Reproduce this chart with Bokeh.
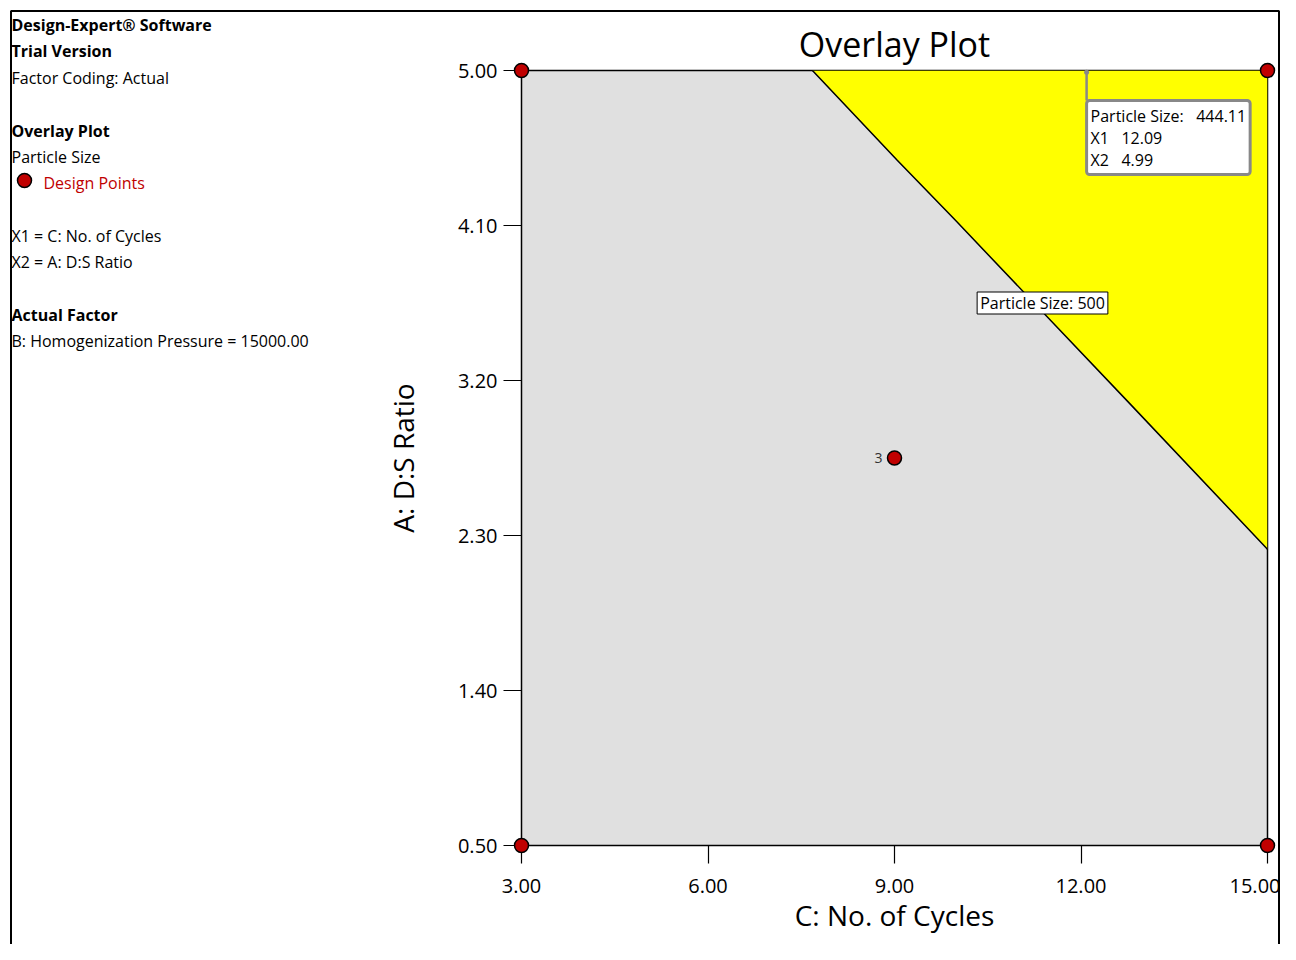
from bokeh.plotting import figure
from bokeh.layouts import row
from bokeh.models import FixedTicker, Label, NumeralTickFormatter, Range1d, ColumnDataSource
from bokeh.embed import file_html
from bokeh.resources import INLINE
from bokeh.core.properties import value

# ---------------- data ----------------
x_ticks = [3, 6, 9, 12, 15]
y_ticks = [0.5, 1.4, 2.3, 3.2, 4.1, 5.0]
design_x = [3, 15, 3, 15, 9]
design_y = [5.0, 5.0, 0.5, 0.5, 2.75]
design_count = ["", "", "", "", "3"]
contour_x = [7.68, 9.04, 9.98, 12.80, 15.0]
contour_y = [5.00, 4.48, 4.13, 3.06, 2.22]
contour_level = 500
flag_x1 = 12.09
flag_x2 = 4.99
flag_value = 444.11
info_text = ["Design-Expert® Software", "Trial Version", "Factor Coding: Actual",
             "Overlay Plot", "Particle Size", "Design Points",
             "X1 = C: No. of Cycles", "X2 = A: D:S Ratio",
             "Actual Factor", "B: Homogenization Pressure = 15000.00"]
info_style = ["bold", "bold", "normal", "bold", "normal", "normal",
              "normal", "normal", "bold", "normal"]
info_color = ["black", "black", "black", "black", "black", "#C00000",
              "black", "black", "black", "black"]

FONT = "Open Sans"
W, H = 1280, 944
INFO_W = 380
XMIN, XMAX, YMIN, YMAX = 3.0, 15.0, 0.5, 5.0
FRAME_L, FRAME_R, FRAME_T, FRAME_B = 521, 1267, 70, 845


def X(px):  # page pixel -> data x of main plot
    return XMIN + (px - FRAME_L) * (XMAX - XMIN) / (FRAME_R - FRAME_L)


def Y(py):  # page pixel -> data y of main plot
    return YMAX - (py - FRAME_T) * (YMAX - YMIN) / (FRAME_B - FRAME_T)


NB = "\u00a0"

# ---------------- left info panel ----------------
info = figure(width=INFO_W, height=H, x_range=Range1d(0, INFO_W), y_range=Range1d(H, 0),
              output_backend="svg", toolbar_location=None,
              x_axis_type=None, y_axis_type=None,
              min_border_left=0, min_border_right=0, min_border_top=0, min_border_bottom=0)
info.frame_align = False
info.outline_line_color = None
info.background_fill_color = "white"
info.border_fill_color = "white"
info.grid.visible = False
info_y = [24, 50, 77, 130, 156, 182, 235, 261, 314, 340]
info_x = [11 if t != "Design Points" else 43 for t in info_text]
src = ColumnDataSource(dict(x=info_x, y=info_y, t=info_text, s=info_style, c=info_color))
info.text("x", "y", text="t", source=src, text_font=value(FONT), text_font_size="16px",
          text_font_style="s", text_color="c", text_baseline="middle", text_align="left")
info.scatter([24], [180], size=14, fill_color="#C00000", line_color="black", line_width=1.5)
info.quad(left=[10.5], right=[INFO_W + 50], top=[10.5], bottom=[H + 50],
          fill_color=None, line_color="black", line_width=2, level="overlay")

# ---------------- main plot ----------------
p = figure(width=W - INFO_W, height=H, x_range=(XMIN, XMAX), y_range=(YMIN, YMAX),
           output_backend="svg", toolbar_location=None,
           min_border_left=FRAME_L - INFO_W, min_border_right=W - FRAME_R,
           min_border_top=FRAME_T, min_border_bottom=H - FRAME_B,
           title="Overlay Plot")
p.frame_align = False
p.background_fill_color = "#E0E0E0"
p.border_fill_color = "white"
p.outline_line_color = "black"
p.outline_line_width = 1.5
p.grid.visible = False

p.title.align = "center"
p.title.text_font = FONT
p.title.text_font_size = "34px"
p.title.text_font_style = "normal"
p.title.text_color = "black"
p.title.standoff = 8

for ax, ticks, lab in ((p.xaxis[0], x_ticks, "C: No. of Cycles"), (p.yaxis[0], y_ticks, "A: D:S Ratio")):
    ax.ticker = FixedTicker(ticks=ticks)
    ax.formatter = NumeralTickFormatter(format="0.00")
    ax.major_tick_out = 18
    ax.major_tick_in = 0
    ax.major_tick_line_color = "black"
    ax.major_tick_line_width = 1.2
    ax.minor_tick_line_color = None
    ax.axis_line_color = "black"
    ax.major_label_text_font = FONT
    ax.major_label_text_font_size = "20px"
    ax.major_label_text_color = "black"
    ax.axis_label = lab
    ax.axis_label_text_font = FONT
    ax.axis_label_text_font_size = "28px"
    ax.axis_label_text_font_style = "normal"
    ax.axis_label_text_color = "black"
p.xaxis.major_label_standoff = 15
p.xaxis.axis_label_standoff = 0
p.yaxis.major_label_standoff = 6
p.yaxis.axis_label_standoff = 33

# yellow region (Particle Size < 500) and contour line
p.patch(contour_x + [XMAX], contour_y + [YMAX], fill_color="#FFFF00", line_color=None)
p.line(contour_x, contour_y, line_color="black", line_width=1.5)

# contour label
p.add_layout(Label(x=X(1042), y=Y(302.5), text=f"Particle Size: {contour_level}",
                   text_align="center", text_baseline="middle",
                   text_font=FONT, text_font_size="16px", text_color="black",
                   background_fill_color="white", border_line_color="black",
                   border_line_width=1, padding=dict(left=3, right=3, top=0, bottom=0)))

# flag / tooltip
p.line([flag_x1, flag_x1], [flag_x2, Y(100)], line_color="#888888", line_width=2.5, level="overlay")
p.scatter([flag_x1], [flag_x2], size=5, fill_color="#888888", line_color=None, level="overlay")
tip = (f"Particle Size:{NB*3}{flag_value:.2f}\n"
       f"X1{NB*3}{flag_x1:.2f}\n"
       f"X2{NB*3}{flag_x2:.2f}")
p.add_layout(Label(x=flag_x1, y=Y(100), text=tip,
                   text_align="left", text_baseline="top",
                   text_font=FONT, text_font_size="16px", text_color="black",
                   text_line_height=1.0,
                   background_fill_color="white", border_line_color="#888888",
                   border_line_width=3, border_radius=3, padding=4, level="overlay"))

# design points
p.scatter(design_x, design_y, size=14, fill_color="#C00000", line_color="black",
          line_width=1.5, level="overlay")
p.text(design_x, design_y, text=design_count, x_offset=-12, text_align="right",
       text_baseline="middle", text_font=value(FONT), text_font_size="14px",
       text_color="#333333", level="overlay")

# outer frame (top and right part)
p.quad(left=[X(INFO_W - 50)], right=[X(W - 1.5)], top=[Y(10.5)], bottom=[Y(H + 50)],
       fill_color=None, line_color="black", line_width=2, level="overlay")

layout = row(info, p)
open("out.html", "w").write(file_html(layout, INLINE))
